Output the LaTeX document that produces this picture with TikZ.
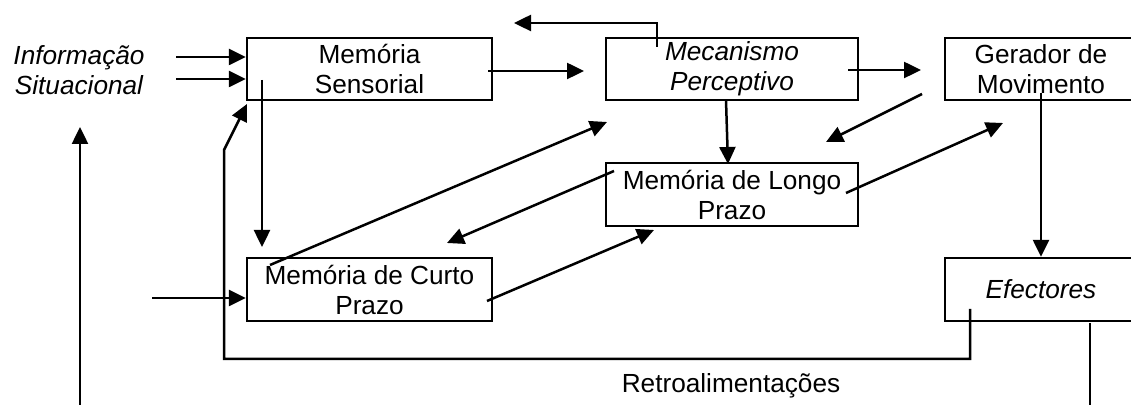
\documentclass[tikz,border=0pt]{standalone}
\usepackage{fontspec}
\setmainfont{Liberation Sans}
\usetikzlibrary{arrows.meta}

\tikzset{
	caixa/.style={draw, line width=1.2pt, align=center, inner sep=0pt, minimum height=31pt, font=\fontsize{13.1}{15}\selectfont},
	italico/.style={font=\fontsize{13.1}{15}\selectfont\itshape},
	texto/.style={align=center, inner sep=0pt, font=\fontsize{13.1}{15}\selectfont},
	seta/.style={line width=1.25pt, -{Triangle[length=8.5pt,width=8pt]}},
	fina/.style={line width=0.6pt},
}

\begin{document}
\begin{tikzpicture}[x=0.5pt,y=0.5pt,yscale=-1,xscale=1]
		% Set diagram size: 1131 wide, 405 high
		\useasboundingbox (0,0) rectangle (1131,405);

		% The boxes
		\node[caixa, minimum width=122.5pt] (ms) at (369.5,69) {Memória\\Sensorial};
		\node[caixa, italico, minimum width=126pt] (mp) at (732,69) {Mecanismo\\Perceptivo};
		\node[caixa, minimum width=96pt] (gm) at (1041,69) {Gerador de\\Movimento};
		\node[caixa, minimum width=126pt, minimum height=31.5pt] (mlp) at (732,194.5) {Memória de Longo\\Prazo};
		\node[caixa, minimum width=122.5pt, minimum height=31.5pt] (mcp) at (369.5,289.5) {Memória de Curto\\Prazo};
		\node[caixa, italico, minimum width=96pt, minimum height=31.5pt] (ef) at (1041,289.5) {Efectores};

		% The free texts
		\node[texto, italico] (info) at (79,70) {Informação\\Situacional};
		\node[texto] (retro) at (731,386) {Retroalimentações};

		% Free ends of the connectors
		\coordinate (i1) at (176,57);
		\coordinate (i2) at (176,79);
		\coordinate (sobe0) at (80,405);
		\coordinate (sobe1) at (80,127);
		\coordinate (c0) at (152,298);
		\coordinate (ms0) at (262,80);
		\coordinate (ms1) at (262,247);
		\coordinate (ef0) at (970,309);
		\coordinate (r1) at (970,359);
		\coordinate (r2) at (224,359);
		\coordinate (r3) at (224,150);
		\coordinate (r4) at (247,104);
		\coordinate (a0) at (488,71);
		\coordinate (a1) at (584,71);
		\coordinate (b0) at (657,47);
		\coordinate (b1) at (514,23);
		\coordinate (p0) at (726,100);
		\coordinate (p1) at (728,164);
		\coordinate (d0) at (848,70);
		\coordinate (d1) at (921,70);
		\coordinate (e0) at (922,94);
		\coordinate (e1) at (826,142);
		\coordinate (f0) at (846,193);
		\coordinate (f1) at (1003,123);
		\coordinate (g0) at (1041,93);
		\coordinate (h0) at (270,265);
		\coordinate (h1) at (607,122);
		\coordinate (k0) at (614,171);
		\coordinate (k1) at (447,243);
		\coordinate (m0) at (487,301);
		\coordinate (m1) at (654,230);
		\coordinate (t0) at (1090,323);
		\coordinate (t1) at (1090,405);

		% Inputs into the sensory memory
		\draw[seta] (i1) -- (i1 -| ms.west);
		\draw[seta] (i2) -- (i2 -| ms.west);

		% Long arrow going up to the situational information
		\draw[seta] (sobe0) -- (sobe1);

		% Input into the short term memory
		\draw[seta] (c0) -- (c0 -| mcp.west);

		% Sensory memory down to short term memory
		\draw[seta] (ms0) -- (ms1);

		% Feedback loop from the effectors
		\draw[seta] (ef0) -- (r1) -- (r2) -- (r3) -- (r4);

		% Sensory memory to perceptive mechanism
		\draw[seta] (a0) -- (a1);

		% Loop leaving the top of the perceptive mechanism
		\draw[seta] (b0) |- (b1);

		% Perceptive mechanism to long term memory
		\draw[seta] (p0) -- (p1);

		% Perceptive mechanism to movement generator
		\draw[seta] (d0) -- (d1);

		% Diagonals between long term memory and movement generator
		\draw[seta] (e0) -- (e1);
		\draw[seta] (f0) -- (f1);

		% Movement generator down to the effectors
		\draw[seta] (g0) -- (g0 |- ef.north);

		% Diagonals from and to the short term memory
		\draw[seta] (h0) -- (h1);
		\draw[seta] (k0) -- (k1);
		\draw[seta] (m0) -- (m1);

		% Thin line below the effectors
		\draw[fina] (t0) -- (t1);
	\end{tikzpicture}
\end{document}
